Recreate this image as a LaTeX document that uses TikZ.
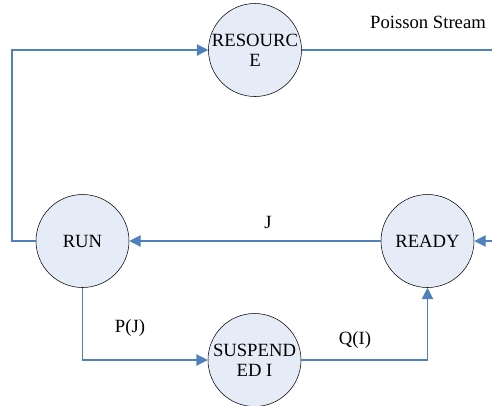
\documentclass[tikz,border=0pt]{standalone}
\usepackage{fontspec}
\setmainfont{Liberation Serif}
\usetikzlibrary{arrows.meta,positioning}
\definecolor{statefill}{RGB}{230,236,247}
\definecolor{flowblue}{RGB}{79,129,189}

\begin{document}
\begin{tikzpicture}[x=0.75pt,y=-0.75pt,
    font=\rmfamily\fontsize{14}{15}\selectfont,
    state/.style={circle,draw=black,fill=statefill,minimum size=69.75pt,inner sep=0pt,align=center},
    flow/.style={draw=flowblue,line width=0.9pt},
    flowarrow/.style={flow,-{Triangle[length=8.5pt,width=8.5pt]}}]
\useasboundingbox (0,0) rectangle (492,405);

\node[state] (res)   at (255,50)    {RESOURC\\E};
\node[state] (run)   at (82.5,241)  {RUN};
\node[state] (ready) at (427.5,241) {READY};
\node[state] (susp)  at (254.5,360) {SUSPEND\\ED I};

\coordinate (loopTop) at (12,50);
\coordinate (loopBot) at (12,241);
\coordinate (streamEnd) at (492,50);
\coordinate (streamIn) at (492,241);

\node (poisson) at (428,22)  {Poisson Stream};
\node (lblJ)    at (268,222) {J};
\node (lblP)    at (130,328) {P(J)};
\node (lblQ)    at (355,340) {Q(I)};

\draw[flowarrow] (run.west) -- (loopBot) -- (loopTop) -- (res.west);
\draw[flow] (res.east) -- (streamEnd);
\draw[flowarrow] (streamIn) -- (ready.east);
\draw[flowarrow] (ready.west) -- (run.east);
\draw[flowarrow] (run.south) |- (susp.west);
\draw[flowarrow] (susp.east) -| (ready.south);

\end{tikzpicture}
\end{document}
